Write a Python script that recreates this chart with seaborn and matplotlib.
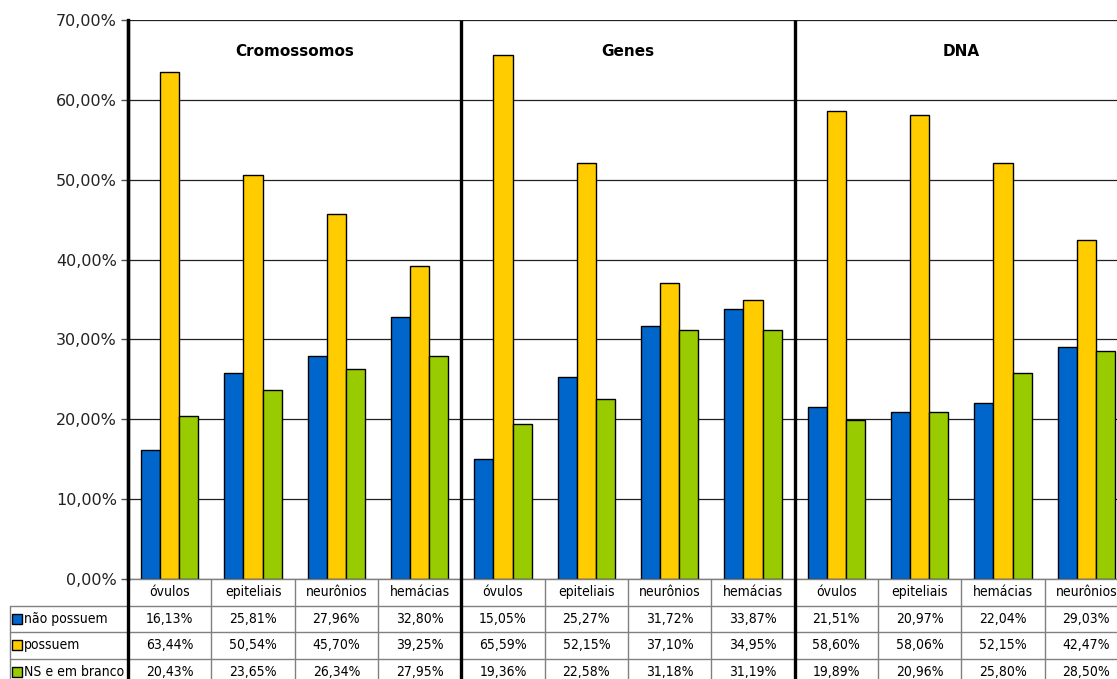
import seaborn as sns
import matplotlib
matplotlib.use("Agg")
import matplotlib.pyplot as plt
import pandas as pd
from matplotlib.transforms import blended_transform_factory
from matplotlib.patches import Rectangle
from matplotlib import font_manager as fm

groups = ["Cromossomos", "Genes", "DNA"]
cats_crom = ["óvulos", "epiteliais", "neurônios", "hemácias"]
cats_genes = ["óvulos", "epiteliais", "neurônios", "hemácias"]
cats_dna = ["óvulos", "epiteliais", "hemácias", "neurônios"]
series = ["não possuem", "possuem", "NS e em branco"]
nao_possuem = [16.13, 25.81, 27.96, 32.80, 15.05, 25.27, 31.72, 33.87, 21.51, 20.97, 22.04, 29.03]
possuem = [63.44, 50.54, 45.70, 39.25, 65.59, 52.15, 37.10, 34.95, 58.60, 58.06, 52.15, 42.47]
ns_branco = [20.43, 23.65, 26.34, 27.95, 19.36, 22.58, 31.18, 31.19, 19.89, 20.96, 25.80, 28.50]
yticks = [0, 10, 20, 30, 40, 50, 60, 70]
colors = ["#0066CC", "#FFCC00", "#99CC00"]

sns.set_theme(style="white")
plt.rcParams["font.family"] = ["DejaVu Sans"]

# condensed font for the data table, if available
names = {f.name for f in fm.fontManager.ttflist}
if "Liberation Sans Narrow" in names:
    narrow_kw = dict(family=["Liberation Sans Narrow", "DejaVu Sans"], fontsize=10.5)
else:
    narrow_kw = dict(family=["DejaVu Sans"], fontstretch="condensed", fontsize=10)

cat_lists = [cats_crom, cats_genes, cats_dna]
cats, keys = [], []
for g, cl in zip(groups, cat_lists):
    for c in cl:
        cats.append(c)
        keys.append(f"{g}|{c}")
values = [nao_possuem, possuem, ns_branco]
rows = []
for s, vals in zip(series, values):
    for k, v in zip(keys, vals):
        rows.append({"key": k, "serie": s, "valor": v})
df = pd.DataFrame(rows)

W, H = 1117, 679
fig = plt.figure(figsize=(W / 100, H / 100), dpi=100)
ax = fig.add_axes([128 / W, (H - 579) / H, 1000 / W, 559 / H])

sns.barplot(data=df, x="key", y="valor", hue="serie", order=keys, hue_order=series,
            palette=colors, width=0.69, edgecolor="black", linewidth=1.0,
            saturation=1, errorbar=None, legend=False, ax=ax)

ax.set_xlim(-0.5, len(keys) - 0.5)
ax.set_ylim(0, 70)
ax.set_yticks(yticks)
ax.set_yticklabels([f"{v:.2f}%".replace(".", ",") for v in yticks], fontsize=11.5, color="#222222")
ax.set_xticks([])
ax.set_xlabel("")
ax.set_ylabel("")
ax.yaxis.grid(True, color="#202020", lw=0.9)
ax.set_axisbelow(True)
ax.tick_params(axis="y", left=True, length=5, width=1, color="#555555", pad=3)
for sp in ["top", "right", "bottom"]:
    ax.spines[sp].set_visible(False)
ax.spines["left"].set_color("black")
ax.spines["left"].set_linewidth(2.4)

tr = blended_transform_factory(ax.transData, ax.transAxes)

# group titles
for i, g in enumerate(groups):
    ax.text(i * 4 + 1.5, (579 - 52) / 559, g, transform=tr,
            ha="center", va="center", fontsize=11, fontweight="bold", color="black")

# data table
h = 26.5 / 559
lab_x = (10 - 128) / 1000
grey = "#808080"
for i, c in enumerate(cats):
    ax.text(i, -h / 2, c, transform=tr, ha="center", va="center",
            color="black", clip_on=False, **narrow_kw)
for r, (s, vals) in enumerate(zip(series, values)):
    yc = -(r + 1.5) * h
    for i, v in enumerate(vals):
        ax.text(i, yc, f"{v:.2f}%".replace(".", ","), transform=tr, ha="center", va="center",
                color="black", clip_on=False, **narrow_kw)
    ax.add_patch(Rectangle(((12 - 128) / 1000, yc - 5 / 559), 10 / 1000, 10 / 559,
                           transform=ax.transAxes, facecolor=colors[r], edgecolor="black",
                           lw=1, clip_on=False))
    ax.text((24 - 128) / 1000, yc, s, transform=ax.transAxes, ha="left", va="center",
            color="black", clip_on=False, **narrow_kw)
ax.plot([0, 1], [0, 0], transform=ax.transAxes, color=grey, lw=1, clip_on=False)
for r in range(1, 4):
    ax.plot([lab_x, 1], [-r * h, -r * h], transform=ax.transAxes, color=grey, lw=1, clip_on=False)
ax.plot([lab_x, lab_x], [-h, -4.2 * h], transform=ax.transAxes, color=grey, lw=1, clip_on=False)
for k in range(len(keys) - 1):
    if (k + 1) % 4 == 0:
        continue
    xb = k + 0.5
    ax.plot([xb, xb], [0, -4.2 * h], transform=tr, color=grey, lw=1, clip_on=False)
for xb in [-0.5, 3.5, 7.5, 11.5]:
    ax.plot([xb, xb], [1, -4.2 * h], transform=tr, color="black", lw=2.4, clip_on=False,
            solid_capstyle="butt")

fig.savefig("out.png", dpi=100)
